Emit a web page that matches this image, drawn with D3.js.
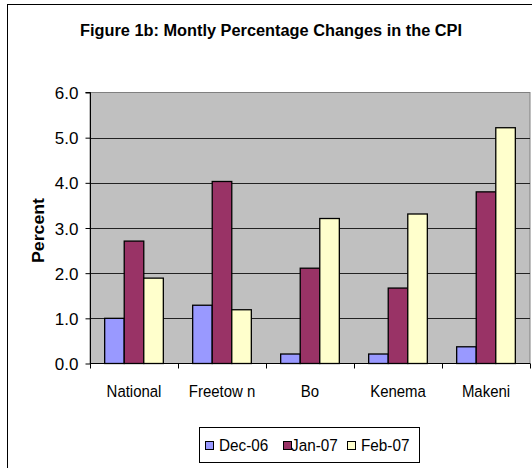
<!DOCTYPE html>
<html><head><meta charset="utf-8">
<script src="https://cdn.jsdelivr.net/npm/d3@7"></script>
<style>body{margin:0;background:#fff}svg{display:block}</style>
</head><body>
<script>
const categories = ["National", "Freetow n", "Bo", "Kenema", "Makeni"];
const seriesNames = ["Dec-06", "Jan-07", "Feb-07"];
const dec06 = [1.0, 1.29, 0.21, 0.21, 0.37];
const jan07 = [2.71, 4.03, 2.11, 1.67, 3.80];
const feb07 = [1.89, 1.19, 3.21, 3.31, 5.22];
const seriesColors = ["#9999FF", "#993366", "#FFFFCC"];
const yTicks = [0, 1, 2, 3, 4, 5, 6];
const titleText = "Figure 1b: Montly Percentage Changes in the CPI";
const yTitle = "Percent";

const FONT = "'Liberation Sans', Arial, Helvetica, sans-serif";
const W = 532, H = 468;
const svg = d3.select("body").append("svg").attr("width", W).attr("height", H);
const series = [dec06, jan07, feb07];

svg.append("rect").attr("x", 7.5).attr("y", 4.5).attr("width", 560).attr("height", 500)
  .attr("fill", "none").attr("stroke", "#000").attr("stroke-width", 1);

const L = 90, R = 530, T = 92.5, B = 363.5;
const x0 = d3.scaleBand().domain(categories).range([L, R]).paddingInner(0).paddingOuter(0);
const x1 = d3.scaleBand().domain(d3.range(3)).range([0, x0.bandwidth()]).paddingOuter(0.75).paddingInner(0);
const y = d3.scaleLinear().domain([0, 6]).range([B, T]);

svg.append("rect").attr("x", L).attr("y", T).attr("width", R - L).attr("height", B - T)
  .attr("fill", "#C0C0C0").attr("stroke", "#808080").attr("stroke-width", 1);

svg.append("g").selectAll("line").data(yTicks.filter(d => d > 0 && d < 6)).join("line")
  .attr("x1", L).attr("x2", R).attr("y1", d => Math.round(y(d)) + 0.5).attr("y2", d => Math.round(y(d)) + 0.5)
  .attr("stroke", "#222").attr("stroke-width", 1);

const g = svg.append("g");
categories.forEach((c, ci) => {
  series.forEach((s, si) => {
    g.append("rect")
      .attr("x", x0(c) + x1(si))
      .attr("y", y(s[ci]))
      .attr("width", x1.bandwidth())
      .attr("height", B - y(s[ci]))
      .attr("fill", seriesColors[si])
      .attr("stroke", "#000").attr("stroke-width", 1.3);
  });
});

const yAxis = d3.axisLeft(y).tickValues(yTicks).tickFormat(d3.format(".1f")).tickSize(5).tickPadding(7);
const ya = svg.append("g").attr("transform", `translate(${L + 0.5},0)`).call(yAxis);
ya.select(".domain").attr("stroke", "#000").attr("d", `M-5,${T}H0V${B}`);
ya.selectAll(".tick line").attr("stroke", "#000");
ya.selectAll(".tick text").style("font-family", FONT).style("font-size", "17px").style("fill", "#000").attr("dy", "0.36em");

const xa = svg.append("g").attr("transform", `translate(0,${B})`);
xa.append("line").attr("x1", L).attr("x2", R).attr("y1", 0).attr("y2", 0).attr("stroke", "#000");
const bounds = categories.map(c => x0(c)).concat([R]);
xa.selectAll("line.tk").data(bounds).join("line").attr("class", "tk")
  .attr("x1", d => Math.round(d) + 0.5).attr("x2", d => Math.round(d) + 0.5).attr("y1", 0).attr("y2", 5).attr("stroke", "#000");
xa.selectAll("text").data(categories).join("text")
  .attr("transform", d => `translate(${x0(d) + x0.bandwidth() / 2},33) scale(0.88,1)`)
  .attr("text-anchor", "middle").style("font-family", FONT).style("font-size", "17px").text(d => d);

svg.append("text").attr("x", 271).attr("y", 36).attr("text-anchor", "middle")
  .style("font-family", FONT).style("font-size", "16px").style("font-weight", "bold")
  .attr("textLength", 382).attr("lengthAdjust", "spacingAndGlyphs").text(titleText);

svg.append("text").attr("transform", "translate(44,230.5) rotate(-90)").attr("text-anchor", "middle")
  .style("font-family", FONT).style("font-size", "16px").style("font-weight", "bold")
  .attr("textLength", 65).attr("lengthAdjust", "spacingAndGlyphs").text(yTitle);

const lg = svg.append("g");
lg.append("rect").attr("x", 199.5).attr("y", 427.5).attr("width", 220).attr("height", 35)
  .attr("fill", "#fff").attr("stroke", "#000");
const legX = [205, 283, 347];
const legTextX = [219, 291, 361];
seriesNames.forEach((n, i) => {
  lg.append("rect").attr("x", legX[i] + 0.5).attr("y", 441.5).attr("width", 8).attr("height", 8)
    .attr("fill", seriesColors[i]).attr("stroke", "#000");
  lg.append("text").attr("transform", `translate(${legTextX[i]},451) scale(0.9,1)`)
    .style("font-family", FONT).style("font-size", "17px").text(n);
});
</script>
</body></html>
